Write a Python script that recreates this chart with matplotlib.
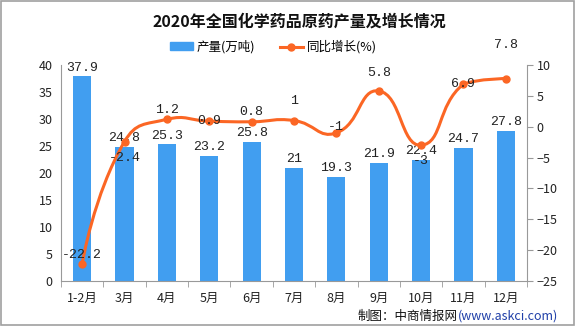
import matplotlib
matplotlib.use("Agg")
import matplotlib.pyplot as plt
from matplotlib.path import Path
from matplotlib.patches import PathPatch, Rectangle
from matplotlib.lines import Line2D
import numpy as np

plt.rcParams["font.family"] = ["Noto Sans CJK SC", "DejaVu Sans"]

months = ["1-2月", "3月", "4月", "5月", "6月", "7月", "8月", "9月", "10月", "11月", "12月"]
output = [37.9, 24.8, 25.3, 23.2, 25.8, 21, 19.3, 21.9, 22.4, 24.7, 27.8]
growth = [-22.2, -2.4, 1.2, 0.9, 0.8, 1, -1, 5.8, -3, 6.9, 7.8]
growth_txt = ["-22.2", "-2.4", "1.2", "0.9", "0.8", "1", "-1", "5.8", "-3", "6.9", "7.8"]
# label offsets (points) for the growth labels, as they sit in the original
growth_dy = [6, -12, 7, 0, 7, 14, 4, 13, -11, 0, 24]

BLUE = "#419ef0"
ORANGE = "#fb6624"
GRAY = "#999999"
MONO = ["Liberation Mono", "DejaVu Sans Mono"]

fig = plt.figure(figsize=(5.75, 3.26), dpi=100)
ax = fig.add_axes([61 / 575, 1 - 281 / 326, 466 / 575, 216 / 326])
ax2 = ax.twinx()

x = np.arange(len(months))
ax.bar(x, output, width=0.43, color=BLUE, zorder=2)
for xi, v in zip(x, output):
    ax.text(xi, v + 0.5, f"{v:g}", ha="center", va="bottom", fontsize=9.5,
            family=MONO, color="#222222", zorder=5)

ax.set_xlim(-0.5, len(months) - 0.5)
ax.set_ylim(0, 40)
ax.set_yticks(range(0, 41, 5))
ax2.set_ylim(-25, 10)
ax2.set_yticks(range(-25, 11, 5))


def smooth_path(a, xs, ys, smooth=0.5):
    """echarts-like bezier smoothing, worked out in pixel space"""
    P = a.transData.transform(np.column_stack([xs, ys]))
    n = len(P)
    cps = []
    for i in range(n):
        if i == 0 or i == n - 1:
            cps.append((P[i], P[i]))
            continue
        prev, nxt = P[i - 1], P[i + 1]
        v = (nxt - prev) * smooth
        d0 = np.hypot(*(P[i] - prev))
        d1 = np.hypot(*(nxt - P[i]))
        s = d0 + d1
        cps.append((P[i] - v * d0 / s, P[i] + v * d1 / s))
    lo, hi = P.min(axis=0), P.max(axis=0)
    verts = [P[0]]
    codes = [Path.MOVETO]
    for i in range(n - 1):
        verts += [np.clip(cps[i][1], lo, hi), np.clip(cps[i + 1][0], lo, hi), P[i + 1]]
        codes += [Path.CURVE4] * 3
    verts = a.transData.inverted().transform(np.array(verts))
    return Path(verts, codes)


fig.canvas.draw()
ax2.add_patch(PathPatch(smooth_path(ax2, x, growth), fill=False,
                        edgecolor=ORANGE, lw=2.2, zorder=3))
ax2.plot(x, growth, "o", color=ORANGE, ms=5, zorder=4)
for xi, v, t, dy in zip(x, growth, growth_txt, growth_dy):
    ax2.annotate(t, (xi, v), xytext=(0, dy), textcoords="offset points",
                 ha="center", va="center", fontsize=9.5, family=MONO,
                 color="#222222", zorder=6)

# axes styling
for a in (ax, ax2):
    a.spines["top"].set_visible(False)
    a.spines["left"].set_color(GRAY)
    a.spines["right"].set_color(GRAY)
    a.spines["bottom"].set_color(GRAY)
ax.spines["right"].set_visible(False)
ax2.spines["left"].set_visible(False)
ax2.spines["bottom"].set_visible(False)
ax.tick_params(axis="y", length=0, labelsize=9, pad=6, labelcolor="#222222")
ax2.tick_params(axis="y", length=4, color=GRAY, labelsize=9, pad=3, labelcolor="#222222")
ax.set_xticks(x)
ax.set_xticklabels(months)
ax.set_xticks(np.arange(-0.5, len(months), 1), minor=True)
ax.tick_params(axis="x", which="major", length=0, labelsize=9, pad=8, labelcolor="#222222")
ax.tick_params(axis="x", which="minor", length=4, color=GRAY)

# title and legend
fig.text(0.52, 1 - 22 / 326, "2020年全国化学药品原药产量及增长情况", ha="center",
         va="center", fontsize=11.5, fontweight="bold", color="#111111")
handles = [Rectangle((0, 0), 1, 1, color=BLUE),
           Line2D([0], [0], color=ORANGE, lw=2.2, marker="o", ms=5)]
fig.legend(handles, ["产量(万吨)", "同比增长(%)"], loc="center",
           bbox_to_anchor=(0.475, 1 - 47 / 326), ncol=2, frameon=False,
           fontsize=9, handlelength=1.85, handleheight=0.6, columnspacing=2.0,
           handletextpad=0.3)

# source note
t1 = fig.text(358 / 575, 1 - 316 / 326, "制图：中商情报网", ha="left", va="center",
              fontsize=9, color="#111111")
fig.canvas.draw()
bb = t1.get_window_extent()
fig.text(bb.x1 / fig.bbox.width, 1 - 316 / 326, "(www.askci.com)", ha="left",
         va="center", fontsize=9, color="#1f3fa8")

# outer frame
fig.patches.append(Rectangle((0.001, 0.002), 0.997, 0.995, transform=fig.transFigure,
                             fill=False, edgecolor="#a0a0a0", lw=1.2))

fig.savefig("out.png", dpi=100)
